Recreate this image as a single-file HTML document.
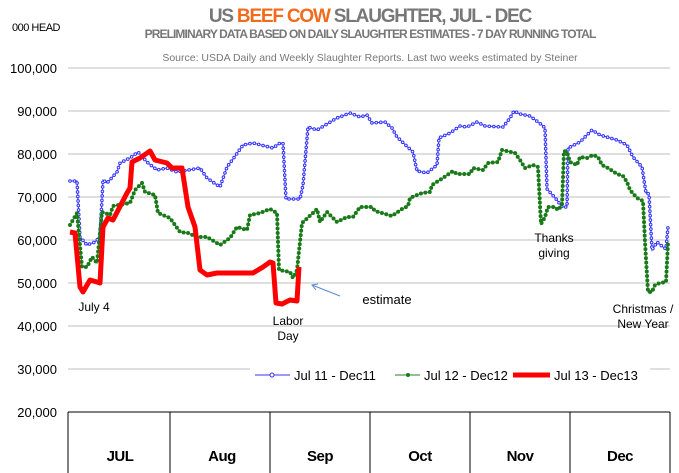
<!DOCTYPE html>
<html><head><meta charset="utf-8"><style>
body{margin:0;background:#fff}
svg{display:block;font-family:"Liberation Sans",sans-serif}
</style></head><body>
<svg width="679" height="473" viewBox="0 0 679 473" xmlns="http://www.w3.org/2000/svg">
<text x="370" y="22" text-anchor="middle" font-size="19" font-weight="bold" fill="#777" letter-spacing="-1.2">US <tspan fill="#f26b1d">BEEF COW</tspan> SLAUGHTER,  JUL - DEC</text>
<text x="370" y="38" text-anchor="middle" font-size="12" font-weight="bold" fill="#777" letter-spacing="-0.9">PRELIMINARY DATA BASED ON DAILY SLAUGHTER ESTIMATES - 7 DAY RUNNING TOTAL</text>
<text x="370" y="61" text-anchor="middle" font-size="10.5" fill="#777">Source:  USDA Daily and Weekly Slaughter Reports.  Last two weeks estimated by Steiner</text>
<text x="12" y="31" font-size="11" fill="#000" letter-spacing="-0.5">000 HEAD</text>
<g stroke="#ccc" stroke-width="1.3">
<line x1="68" y1="68" x2="670" y2="68"/><line x1="68" y1="111" x2="670" y2="111"/><line x1="68" y1="154" x2="670" y2="154"/><line x1="68" y1="197" x2="670" y2="197"/><line x1="68" y1="240" x2="670" y2="240"/><line x1="68" y1="283" x2="670" y2="283"/><line x1="68" y1="326" x2="670" y2="326"/><line x1="68" y1="369" x2="670" y2="369"/>
</g>
<g font-size="13" text-anchor="end" fill="#000">
<text x="57" y="73">100,000</text><text x="57" y="116">90,000</text><text x="57" y="159">80,000</text><text x="57" y="202">70,000</text><text x="57" y="245">60,000</text><text x="57" y="288">50,000</text><text x="57" y="331">40,000</text><text x="57" y="374">30,000</text><text x="57" y="417">20,000</text>
</g>
<g stroke="#000" stroke-width="1" fill="none">
<line x1="68" y1="412" x2="670" y2="412"/>
<line x1="68" y1="412" x2="68" y2="473"/><line x1="170" y1="412" x2="170" y2="473"/><line x1="270" y1="412" x2="270" y2="473"/><line x1="370" y1="412" x2="370" y2="473"/><line x1="470" y1="412" x2="470" y2="473"/><line x1="570" y1="412" x2="570" y2="473"/><line x1="670" y1="412" x2="670" y2="473"/>
</g>
<g font-size="15" font-weight="bold" text-anchor="middle" letter-spacing="-0.5">
<text x="120" y="461">JUL</text><text x="222" y="461">Aug</text><text x="320" y="461">Sep</text><text x="420" y="461">Oct</text><text x="520" y="461">Nov</text><text x="620" y="461">Dec</text>
</g>
<rect x="250" y="362" width="400" height="26" fill="#fff"/>
<defs>
<polyline id="b" points="70,181 77,181 80,237 87,245 95,242 100,237 103,180 107,183 117,172 120,163 130,158 138,152 147,162 157,170 167,168 177,172 200,168 207,178 220,187 227,167 233,159 243,145 253,143 273,148 280,143 283,143 286,199 300,199 303,185 308,127 317,130 327,124 337,118 350,113 360,117 367,115 372,123 385,122 392,128 397,137 413,152 417,171 427,173 437,165 439,138 450,133 460,126 467,127 477,122 485,126 503,127 510,118 514,111 520,114 530,116 542,125 545,128 547,189 557,200 562,207 567,207 568,148 580,142 592,130 600,135 617,140 627,145 633,157 642,167 646,193 649,194 652,250 657,242 663,247 666,249 668,227"/>
<polyline id="g" points="70,225 77,213 82,267 87,267 92,257 97,263 102,212 110,215 113,206 130,203 135,190 142,183 145,192 155,195 158,213 170,218 180,232 188,233 197,237 207,237 220,245 230,238 237,227 247,230 250,215 260,213 270,209 277,213 279,270 290,272 293,278 297,270 302,223 313,213 317,209 320,222 327,212 337,222 347,217 353,217 360,207 372,207 375,211 392,216 402,209 408,206 410,198 422,193 430,192 432,185 443,178 453,171 457,174 470,174 473,168 483,170 488,163 498,162 502,150 515,153 520,160 525,168 533,165 538,167 541,224 545,217 548,207 555,207 558,210 562,205 564,151 567,152 570,162 577,165 580,157 587,158 593,155 598,157 602,165 608,168 617,174 623,176 627,182 630,190 637,198 643,201 645,242 648,292 652,292 655,285 660,283 666,282 668,243"/>
</defs>
<use href="#b" fill="none" stroke="#3333ff" stroke-width="1"/>
<use href="#b" fill="none" stroke="#3333ff" stroke-width="3.6" stroke-linecap="round" stroke-dasharray="0 4.5"/>
<use href="#b" fill="none" stroke="#fff" stroke-width="1.6" stroke-linecap="round" stroke-dasharray="0 4.5"/>
<use href="#g" fill="none" stroke="#1a8a1a" stroke-width="1"/>
<use href="#g" fill="none" stroke="#1a7a1a" stroke-width="4" stroke-linecap="round" stroke-dasharray="0 4.5"/>
<polyline points="70,232 75,233 80,287 83,292 90,280 97,282 100,283 103,227 108,218 113,220 127,193 130,188 132,162 140,158 150,151 155,160 167,163 172,168 182,168 188,207 195,227 200,270 207,275 217,273 253,273 263,267 270,262 273,263 276,303 282,304 290,300 297,301 299,267" fill="none" stroke="#ff0000" stroke-width="5" stroke-linejoin="round"/>
<line x1="340" y1="296" x2="312" y2="285" stroke="#5b8bd0" stroke-width="1"/>
<polyline points="318,284 312,285 316,290" fill="none" stroke="#5b8bd0" stroke-width="1"/>
<g font-size="12" fill="#000" text-anchor="middle">
<text x="94" y="311">July 4</text>
<text x="288" y="325">Labor</text><text x="288" y="340">Day</text>
<text x="387" y="304" font-size="13">estimate</text>
<text x="554" y="242">Thanks</text><text x="554" y="257">giving</text>
<text x="643" y="313">Christmas /</text><text x="643" y="328">New Year</text>
</g>
<line x1="255" y1="375" x2="290" y2="375" stroke="#3333ff" stroke-width="1"/>
<circle cx="272" cy="375" r="2" fill="#fff" stroke="#3333ff"/>
<line x1="395" y1="375" x2="420" y2="375" stroke="#1a8a1a" stroke-width="1"/>
<circle cx="408" cy="375" r="2" fill="#1a7a1a"/>
<line x1="513" y1="375" x2="550" y2="375" stroke="#ff0000" stroke-width="5"/>
<g font-size="13" fill="#000">
<text x="294" y="380">Jul 11 - Dec11</text><text x="424" y="380">Jul 12 - Dec12</text><text x="554" y="380">Jul 13 - Dec13</text>
</g>
</svg>
</body></html>
